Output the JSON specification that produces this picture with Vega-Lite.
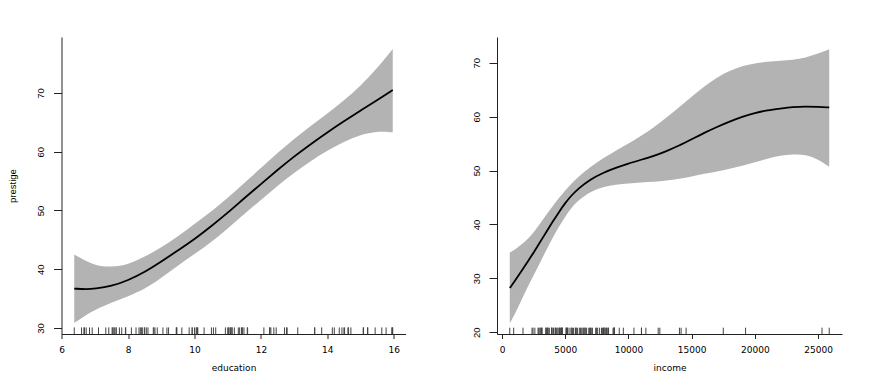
{
  "$schema": "https://vega.github.io/schema/vega-lite/v6.json",
  "padding": {"left": 7.5, "top": 37, "right": 0, "bottom": 0},
  "background": "white",
  "datasets": {
    "prestige": [
      {"education":13.11,"income":12351},{"education":12.26,"income":25879},{"education":12.77,"income":9271},{"education":11.42,"income":8865},
      {"education":14.62,"income":8403},{"education":15.64,"income":11030},{"education":15.09,"income":8258},{"education":15.44,"income":14163},
      {"education":14.52,"income":11377},{"education":14.64,"income":11023},{"education":12.39,"income":5902},{"education":12.30,"income":7059},
      {"education":13.83,"income":8425},{"education":14.44,"income":8049},{"education":14.36,"income":7405},{"education":14.21,"income":6336},
      {"education":15.77,"income":19263},{"education":14.15,"income":6112},{"education":15.22,"income":9593},{"education":14.50,"income":4686},
      {"education":15.97,"income":12480},{"education":13.62,"income":5648},{"education":15.08,"income":8034},{"education":15.96,"income":25308},
      {"education":15.94,"income":14558},{"education":14.71,"income":17498},{"education":12.46,"income":4614},{"education":9.45,"income":3485},
      {"education":13.62,"income":5092},{"education":15.21,"income":10432},{"education":12.79,"income":5180},{"education":11.09,"income":6197},
      {"education":12.71,"income":7562},{"education":11.44,"income":8206},{"education":11.59,"income":4036},{"education":11.49,"income":3148},
      {"education":11.32,"income":4348},{"education":10.64,"income":2448},{"education":11.36,"income":4330},{"education":9.17,"income":4761},
      {"education":12.09,"income":3016},{"education":11.04,"income":2901},{"education":9.22,"income":5511},{"education":10.07,"income":3739},
      {"education":10.51,"income":3161},{"education":11.20,"income":4741},{"education":11.13,"income":5052},{"education":11.43,"income":6259},
      {"education":11.00,"income":4075},{"education":9.84,"income":7482},{"education":11.13,"income":8780},{"education":10.05,"income":2594},
      {"education":9.62,"income":918},{"education":9.93,"income":2370},{"education":11.60,"income":8131},{"education":11.09,"income":6992},
      {"education":11.03,"income":7956},{"education":9.47,"income":8895},{"education":10.93,"income":8891},{"education":7.74,"income":3116},
      {"education":8.50,"income":3930},{"education":10.57,"income":7869},{"education":9.46,"income":611},{"education":7.33,"income":3000},
      {"education":7.11,"income":3472},{"education":7.58,"income":3582},{"education":6.84,"income":3643},{"education":8.60,"income":1656},
      {"education":8.88,"income":6860},{"education":7.54,"income":4199},{"education":7.64,"income":5134},{"education":7.64,"income":5134},
      {"education":7.42,"income":4549},{"education":6.69,"income":4443},{"education":6.74,"income":3485},{"education":10.09,"income":8043},
      {"education":8.81,"income":6686},{"education":8.40,"income":6565},{"education":7.92,"income":6477},{"education":8.43,"income":5811},
      {"education":8.78,"income":6573},{"education":8.76,"income":3942},{"education":10.29,"income":5449},{"education":6.38,"income":2847},
      {"education":8.10,"income":5795},{"education":10.10,"income":7716},{"education":6.67,"income":4696},{"education":9.05,"income":8316},
      {"education":9.93,"income":7147},{"education":8.24,"income":8880},{"education":6.92,"income":5299},{"education":6.60,"income":5959},
      {"education":7.81,"income":4549},{"education":8.33,"income":6928},{"education":7.52,"income":3910},{"education":12.27,"income":14032},
      {"education":8.49,"income":8845},{"education":7.58,"income":5562},{"education":7.93,"income":4224},{"education":8.37,"income":4753},
      {"education":10.00,"income":6462},{"education":8.55,"income":3617}
    ],
    "edu_fit": [
      {"x":6.38,"fit":36.7,"lo":30.85,"hi":42.5},
      {"x":6.75,"fit":36.6,"lo":32.3,"hi":41.35},
      {"x":7.0,"fit":36.7,"lo":33.1,"hi":40.7},
      {"x":7.5,"fit":37.1,"lo":34.3,"hi":40.3},
      {"x":8.0,"fit":38.1,"lo":35.4,"hi":40.8},
      {"x":8.5,"fit":39.5,"lo":36.6,"hi":42.1},
      {"x":9.0,"fit":41.3,"lo":38.5,"hi":43.7},
      {"x":9.5,"fit":43.2,"lo":40.6,"hi":45.6},
      {"x":10.0,"fit":45.1,"lo":42.6,"hi":47.7},
      {"x":10.5,"fit":47.3,"lo":44.6,"hi":49.8},
      {"x":11.0,"fit":49.6,"lo":46.9,"hi":52.1},
      {"x":11.5,"fit":52.1,"lo":49.4,"hi":54.7},
      {"x":12.0,"fit":54.5,"lo":51.8,"hi":57.2},
      {"x":12.5,"fit":56.9,"lo":54.2,"hi":59.8},
      {"x":13.0,"fit":59.2,"lo":56.4,"hi":62.2},
      {"x":13.5,"fit":61.3,"lo":58.4,"hi":64.4},
      {"x":14.0,"fit":63.3,"lo":60.2,"hi":66.5},
      {"x":14.5,"fit":65.2,"lo":61.7,"hi":68.7},
      {"x":15.0,"fit":67.0,"lo":62.9,"hi":71.2},
      {"x":15.5,"fit":68.8,"lo":63.5,"hi":74.2},
      {"x":15.97,"fit":70.5,"lo":63.3,"hi":77.5}
    ],
    "inc_fit": [
      {"x":611,"fit":28.2,"lo":21.7,"hi":34.8},
      {"x":1000,"fit":29.5,"lo":23.3,"hi":35.3},
      {"x":1500,"fit":31.2,"lo":25.8,"hi":36.2},
      {"x":2000,"fit":33.0,"lo":28.3,"hi":37.2},
      {"x":2500,"fit":34.8,"lo":30.6,"hi":38.5},
      {"x":3000,"fit":36.7,"lo":32.9,"hi":40.1},
      {"x":3500,"fit":38.6,"lo":35.2,"hi":41.8},
      {"x":4000,"fit":40.5,"lo":37.5,"hi":43.4},
      {"x":4500,"fit":42.3,"lo":39.6,"hi":44.9},
      {"x":5000,"fit":44.0,"lo":41.5,"hi":46.3},
      {"x":5500,"fit":45.4,"lo":43.1,"hi":47.6},
      {"x":6000,"fit":46.6,"lo":44.4,"hi":48.8},
      {"x":7000,"fit":48.4,"lo":46.1,"hi":50.7},
      {"x":8000,"fit":49.6,"lo":47.0,"hi":52.3},
      {"x":9000,"fit":50.5,"lo":47.4,"hi":53.7},
      {"x":10000,"fit":51.3,"lo":47.6,"hi":55.0},
      {"x":11000,"fit":52.0,"lo":47.8,"hi":56.4},
      {"x":12000,"fit":52.7,"lo":47.9,"hi":58.0},
      {"x":13000,"fit":53.6,"lo":48.1,"hi":59.8},
      {"x":14000,"fit":54.6,"lo":48.5,"hi":61.7},
      {"x":15000,"fit":55.8,"lo":48.9,"hi":63.7},
      {"x":16000,"fit":57.0,"lo":49.4,"hi":65.6},
      {"x":17000,"fit":58.1,"lo":49.8,"hi":67.3},
      {"x":18000,"fit":59.1,"lo":50.3,"hi":68.5},
      {"x":19000,"fit":60.0,"lo":50.9,"hi":69.4},
      {"x":20000,"fit":60.7,"lo":51.5,"hi":69.9},
      {"x":21000,"fit":61.2,"lo":52.2,"hi":70.2},
      {"x":22000,"fit":61.5,"lo":52.8,"hi":70.4},
      {"x":23000,"fit":61.8,"lo":53.0,"hi":70.5},
      {"x":24000,"fit":61.9,"lo":53.0,"hi":70.9},
      {"x":25000,"fit":61.8,"lo":52.1,"hi":71.7},
      {"x":25879,"fit":61.7,"lo":50.7,"hi":72.5}
    ]
  },
  "bounds": "flush",
  "spacing": 91.5,
  "hconcat": [
    {
      "width": 344,
      "height": 297,
      "layer": [
        {
          "data": {"name": "edu_fit"},
          "mark": {"type": "area", "color": "#b3b3b3", "interpolate": "basis"},
          "encoding": {
            "x": {"field": "x", "type": "quantitative", "title": "education",
                  "scale": {"domain": [5.996, 16.354], "nice": false, "zero": false},
                  "axis": {"values": [6, 8, 10, 12, 14, 16], "format": "d"}},
            "y": {"field": "lo", "type": "quantitative", "title": "prestige",
                  "scale": {"domain": [28.98, 79.53], "nice": false, "zero": false},
                  "axis": {"values": [30, 40, 50, 60, 70], "format": "d"}},
            "y2": {"field": "hi"}
          }
        },
        {
          "data": {"name": "edu_fit"},
          "mark": {"type": "line", "color": "#000000", "strokeWidth": 1.8, "interpolate": "basis"},
          "encoding": {
            "x": {"field": "x", "type": "quantitative"},
            "y": {"field": "fit", "type": "quantitative"}
          }
        },
        {
          "data": {"name": "prestige"},
          "mark": {"type": "rule", "color": "#444444", "strokeWidth": 1},
          "encoding": {
            "x": {"field": "education", "type": "quantitative"},
            "y": {"datum": 28.98, "type": "quantitative"},
            "y2": {"datum": 30.1}
          }
        }
      ]
    },
    {
      "width": 345,
      "height": 297,
      "layer": [
        {
          "data": {"name": "inc_fit"},
          "mark": {"type": "area", "color": "#b3b3b3", "interpolate": "basis"},
          "encoding": {
            "x": {"field": "x", "type": "quantitative", "title": "income",
                  "scale": {"domain": [-400, 26890], "nice": false, "zero": false},
                  "axis": {"values": [0, 5000, 10000, 15000, 20000, 25000], "format": "d"}},
            "y": {"field": "lo", "type": "quantitative", "title": null,
                  "scale": {"domain": [19.68, 74.77], "nice": false, "zero": false},
                  "axis": {"values": [20, 30, 40, 50, 60, 70], "format": "d"}},
            "y2": {"field": "hi"}
          }
        },
        {
          "data": {"name": "inc_fit"},
          "mark": {"type": "line", "color": "#000000", "strokeWidth": 1.8, "interpolate": "basis"},
          "encoding": {
            "x": {"field": "x", "type": "quantitative"},
            "y": {"field": "fit", "type": "quantitative"}
          }
        },
        {
          "data": {"name": "prestige"},
          "mark": {"type": "rule", "color": "#444444", "strokeWidth": 1},
          "encoding": {
            "x": {"field": "income", "type": "quantitative"},
            "y": {"datum": 19.68, "type": "quantitative"},
            "y2": {"datum": 20.85}
          }
        }
      ]
    }
  ],
  "config": {
    "view": {"stroke": null},
    "axis": {
      "grid": false,
      "domainColor": "#222222",
      "domainWidth": 1,
      "tickColor": "#222222",
      "tickWidth": 1,
      "labelColor": "#000000",
      "titleColor": "#000000",
      "titleFontWeight": "normal",
      "labelFlush": false,
      "labelOverlap": false
    },
    "axisX": {
      "tickSize": 4.5,
      "labelFont": "DejaVu Sans",
      "labelFontSize": 9,
      "labelPadding": 6.5,
      "titleFont": "DejaVu Sans",
      "titleFontSize": 9,
      "titlePadding": 9
    },
    "axisY": {
      "tickSize": 8,
      "labelAngle": -90,
      "labelAlign": "center",
      "labelBaseline": "alphabetic",
      "labelFont": "Liberation Sans",
      "labelFontSize": 9.5,
      "labelPadding": 10,
      "titleFont": "Liberation Sans",
      "titleFontSize": 9.5,
      "titlePadding": 18
    }
  }
}
